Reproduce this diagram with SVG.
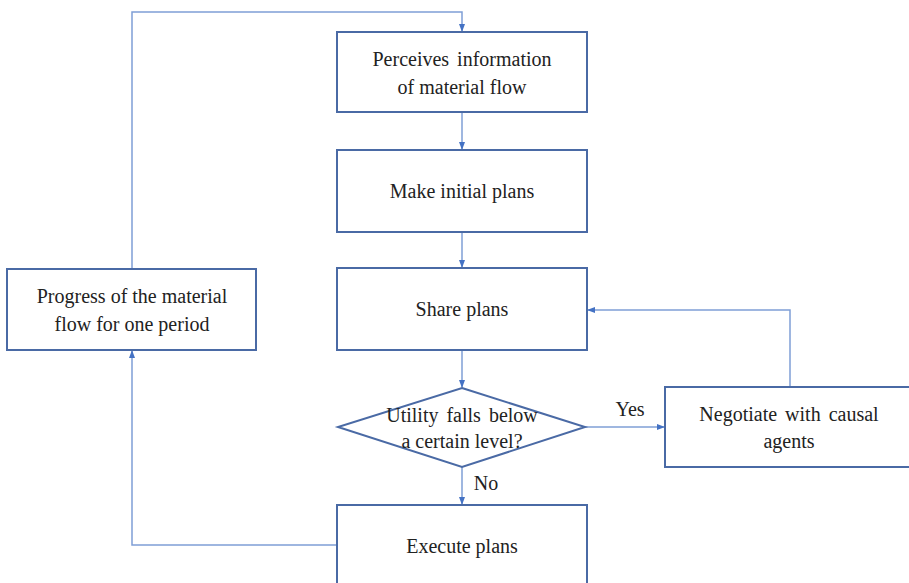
<svg xmlns="http://www.w3.org/2000/svg" width="909" height="583" viewBox="0 0 909 583">
<defs>
<marker id="ah" markerWidth="8" markerHeight="8" refX="7" refY="4" orient="auto" markerUnits="userSpaceOnUse">
<path d="M0,1 L8,4 L0,7 Z" fill="#4472c4"/>
</marker>
</defs>
<rect width="909" height="583" fill="#fff"/>
<g id="connectors" fill="none" stroke="#7f9fd6" stroke-width="1.5">
<path d="M132,269 V12 H462 V31" marker-end="url(#ah)"/>
<path d="M462,112 V149" marker-end="url(#ah)"/>
<path d="M462,232 V267" marker-end="url(#ah)"/>
<path d="M462,350 V387" marker-end="url(#ah)"/>
<path d="M462,467 V504" marker-end="url(#ah)"/>
<path d="M585,427 H664" marker-end="url(#ah)"/>
<path d="M790,387 V310 H588" marker-end="url(#ah)"/>
<path d="M337,545 H132 V351" marker-end="url(#ah)"/>
</g>
<text x="630" y="416" style="font-family:'Liberation Serif'" font-size="20" fill="#222" text-anchor="middle">Yes</text>
<text x="486" y="490" style="font-family:'Liberation Serif'" font-size="20" fill="#222" text-anchor="middle">No</text>
<g id="perceive">
<rect x="337" y="32" width="250" height="80" fill="#fff" stroke="#4a6aa5" stroke-width="2"/>
<text x="462" y="66" style="font-family:'Liberation Serif'" font-size="20" fill="#222" text-anchor="middle" word-spacing="3">Perceives information</text>
<text x="462" y="94" style="font-family:'Liberation Serif'" font-size="20" fill="#222" text-anchor="middle">of material flow</text>
</g>
<g id="initial">
<rect x="337" y="150" width="250" height="82" fill="#fff" stroke="#4a6aa5" stroke-width="2"/>
<text x="462" y="198" style="font-family:'Liberation Serif'" font-size="20" fill="#222" text-anchor="middle">Make initial plans</text>
</g>
<g id="share">
<rect x="337" y="268" width="250" height="82" fill="#fff" stroke="#4a6aa5" stroke-width="2"/>
<text x="462" y="316" style="font-family:'Liberation Serif'" font-size="20" fill="#222" text-anchor="middle">Share plans</text>
</g>
<g id="decision">
<path d="M462,388 L585,427 L462,467 L338,427 Z" fill="#fff" stroke="#4a6aa5" stroke-width="2"/>
<text x="462" y="422" style="font-family:'Liberation Serif'" font-size="20" fill="#222" text-anchor="middle" word-spacing="3">Utility falls below</text>
<text x="462" y="448" style="font-family:'Liberation Serif'" font-size="20" fill="#222" text-anchor="middle">a certain level?</text>
</g>
<g id="negotiate">
<rect x="665" y="387" width="250" height="80" fill="#fff" stroke="#4a6aa5" stroke-width="2"/>
<text x="789" y="421" style="font-family:'Liberation Serif'" font-size="20" fill="#222" text-anchor="middle" word-spacing="3">Negotiate with causal</text>
<text x="789" y="448" style="font-family:'Liberation Serif'" font-size="20" fill="#222" text-anchor="middle">agents</text>
</g>
<g id="progress">
<rect x="7" y="269" width="249" height="81" fill="#fff" stroke="#4a6aa5" stroke-width="2"/>
<text x="132" y="303" style="font-family:'Liberation Serif'" font-size="20" fill="#222" text-anchor="middle">Progress of the material</text>
<text x="132" y="331" style="font-family:'Liberation Serif'" font-size="20" fill="#222" text-anchor="middle">flow for one period</text>
</g>
<g id="execute">
<rect x="337" y="505" width="250" height="90" fill="#fff" stroke="#4a6aa5" stroke-width="2"/>
<text x="462" y="553" style="font-family:'Liberation Serif'" font-size="20" fill="#222" text-anchor="middle">Execute plans</text>
</g>
</svg>
